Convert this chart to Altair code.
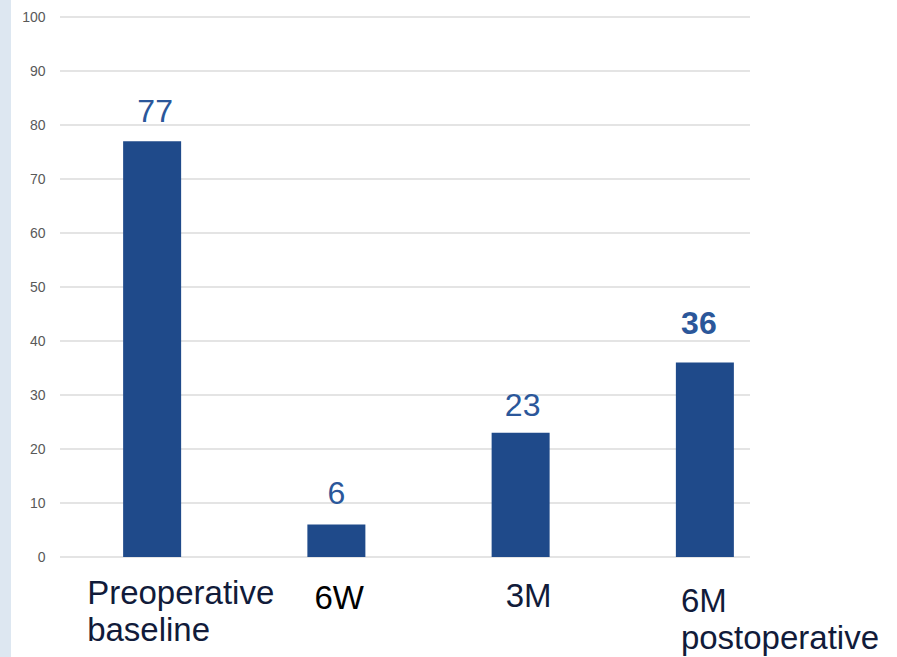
import altair as alt
import pandas as pd

# Chart data
categories = ["Preoperative baseline", "6W", "3M", "6M postoperative"]
axis_labels = ["Preoperative\nbaseline", "6W", "3M", "6M\npostoperative"]
values = [77, 6, 23, 36]
y_ticks = [0, 10, 20, 30, 40, 50, 60, 70, 80, 90, 100]

df = pd.DataFrame({"cat": categories, "label": axis_labels, "value": values})
grid_df = pd.DataFrame({"tick": y_ticks})

FONT = "Liberation Sans"
BAR = "#1f4a8a"
VALUE_COLOR = "#2b579a"
LABEL_COLOR = "#111b3a"

W, H = 737, 540

x_scale = alt.Scale(domain=categories, paddingInner=0.685, paddingOuter=0.3425)
y_scale = alt.Scale(domain=[0, 100])

# Light side strip at the left edge
strip = alt.Chart(pd.DataFrame({"k": [0]})).mark_rect(color="#dde7f1").encode(
    x=alt.value(-60), x2=alt.value(-49), y=alt.value(-17), y2=alt.value(H + 100)
)

# Horizontal gridlines with gray tick labels
grid = alt.Chart(grid_df).mark_rule(color="#e4e4e4", strokeWidth=2).encode(
    y=alt.Y("tick:Q", scale=y_scale,
            axis=alt.Axis(values=y_ticks, grid=False, domain=False, ticks=False,
                          labelPadding=15, labelFontSize=14, labelColor="#595959",
                          labelFont=FONT, title=None)),
    x=alt.value(0), x2=alt.value(690),
)

bars = alt.Chart(df).mark_bar(color=BAR, size=58).encode(
    x=alt.X("cat:N", scale=x_scale, sort=categories, axis=None),
    y=alt.Y("value:Q", scale=y_scale),
)

# Value labels above the bars (per-bar nudges and weight)
value_style = {
    "Preoperative baseline": dict(dx=3, dy=-19, fontWeight="normal"),
    "6W": dict(dx=0, dy=-21, fontWeight="normal"),
    "3M": dict(dx=2, dy=-17, fontWeight="normal"),
    "6M postoperative": dict(dx=-6, dy=-29, fontWeight="bold"),
}
value_layers = []
for c in categories:
    s = value_style[c]
    value_layers.append(
        alt.Chart(df).transform_filter(alt.datum.cat == c).mark_text(
            font=FONT, fontSize=32, color=VALUE_COLOR, baseline="alphabetic",
            align="center", dx=s["dx"], dy=s["dy"], fontWeight=s["fontWeight"],
        ).encode(
            x=alt.X("cat:N", scale=x_scale, sort=categories, axis=None),
            y=alt.Y("value:Q", scale=y_scale),
            text="value:Q",
        )
    )

# Category labels under the plot
label_style = {
    "Preoperative baseline": dict(dx=-65, y=587, color=LABEL_COLOR),
    "6W": dict(dx=-22, y=592, color="#000000"),
    "3M": dict(dx=-15, y=590, color=LABEL_COLOR),
    "6M postoperative": dict(dx=-24, y=595, color=LABEL_COLOR),
}
label_layers = []
for c in categories:
    s = label_style[c]
    label_layers.append(
        alt.Chart(df).transform_filter(alt.datum.cat == c).mark_text(
            font=FONT, fontSize=33, color=s["color"], baseline="alphabetic",
            align="left", dx=s["dx"], lineBreak="\n", lineHeight=37,
        ).encode(
            x=alt.X("cat:N", scale=x_scale, sort=categories, axis=None),
            y=alt.value(s["y"]),
            text="label:N",
        )
    )

chart = alt.layer(strip, grid, bars, *value_layers, *label_layers).properties(
    width=W, height=H,
    autosize=alt.AutoSizeParams(type="none"),
    padding={"left": 60, "top": 17, "right": 100, "bottom": 100},
    background="white",
).configure_view(stroke=None)

chart.save("out.html", embed_options={"renderer": "svg", "actions": False})
